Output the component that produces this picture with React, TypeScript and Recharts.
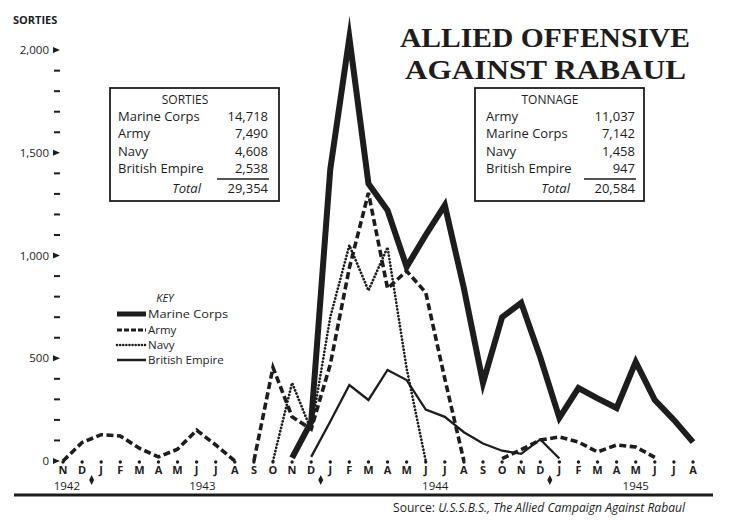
import { LineChart, Line, XAxis, YAxis, ReferenceDot } from 'recharts'

const INK = '#1d1d1d'
const FONT = '"Open Sans", Lato, sans-serif'
const N = null

// Nov 1942 .. Aug 1945
const months = ['N', 'D', 'J', 'F', 'M', 'A', 'M', 'J', 'J', 'A', 'S', 'O',
  'N', 'D', 'J', 'F', 'M', 'A', 'M', 'J', 'J', 'A', 'S', 'O',
  'N', 'D', 'J', 'F', 'M', 'A', 'M', 'J', 'J', 'A']

const marine = [N, N, N, N, N, N, N, N, N, N, N, N,
  15, 190, 1420, 2060, 1350, 1220, 945, 1100, 1245, 840, 380, 700,
  770, 505, 210, 355, 305, 258, 482, 297, 200, 92]
const armyA = [0, 90, 128, 122, 62, 20, 57, 150, 78, 0]
const armyB = [N, N, N, N, N, N, N, N, N, N, 0, 455,
  215, 155, 470, 940, 1305, 840, 925, 820, 400, 0, N, 12,
  55, 102, 117, 92, 44, 78, 68, 18, N, N]
const navy = [N, N, N, N, N, N, N, N, N, N, N, 0,
  380, 150, 700, 1050, 830, 1040, 450, 0, N, N, N, N,
  N, N, N, N, N, N, N, N, N, N]
const british = [N, N, N, N, N, N, N, N, N, N, N, N,
  N, 20, 192, 370, 297, 443, 394, 250, 215, 140, 85, 50,
  35, 105, 12, N, N, N, N, N, N, N]

const yTicks = [0, 100, 200, 300, 400, 500, 600, 700, 800, 900, 1000,
  1100, 1200, 1300, 1400, 1500, 1600, 1700, 1800, 1900, 2000]
const yLabels: Record<number, string> = { 0: '0', 500: '500', 1000: '1,000', 1500: '1,500', 2000: '2,000' }

const years = [{ label: '1942', at: 0.2 }, { label: '1943', at: 7.3 }, { label: '1944', at: 19.5 }, { label: '1945', at: 30 }]
const yearBreaks = [1.5, 13.5, 25.5]

const sorties = [['Marine Corps', '14,718'], ['Army', '7,490'], ['Navy', '4,608'], ['British Empire', '2,538']]
const sortiesTotal = '29,354'
const tonnage = [['Army', '11,037'], ['Marine Corps', '7,142'], ['Navy', '1,458'], ['British Empire', '947']]
const tonnageTotal = '20,584'

const data = months.map((m, i) => ({
  i,
  m,
  marine: marine[i],
  armyA: armyA[i] ?? null,
  armyB: armyB[i],
  navy: navy[i],
  british: british[i],
}))

function YTick(props: any) {
  const { y, payload } = props
  const label = yLabels[payload.value]
  if (label === undefined) {
    return <line x1={54} x2={60} y1={y} y2={y} stroke={INK} strokeWidth={2} />
  }
  return (
    <g>
      <text x={49} y={y + 4} textAnchor="end" fontFamily={FONT} fontSize={11.5} fill={INK}>{label}</text>
      <polygon points={`53,${y - 3} 60,${y} 53,${y + 3}`} fill={INK} />
    </g>
  )
}

function XTick(props: any) {
  const { x, payload } = props
  return (
    <g>
      <circle cx={x} cy={462} r={1.7} fill={INK} />
      <text x={x} y={474} textAnchor="middle" fontFamily={FONT} fontWeight={700} fontSize={11} fill={INK}>
        {months[payload.value]}
      </text>
    </g>
  )
}

const Diamond = (p: any) => (
  <polygon points={`${p.cx},${p.cy + 14} ${p.cx + 2.5},${p.cy + 19} ${p.cx},${p.cy + 24} ${p.cx - 2.5},${p.cy + 19}`} fill={INK} />
)

const yearLabel = (label: string) => (p: any) => (
  <text x={p.cx} y={p.cy + 29} textAnchor="middle" fontFamily={FONT} fontSize={11.5} fill={INK}>{label}</text>
)

function TableBox({ x, title, rows, total, labelX, numX, totalX }: any) {
  const base = [121, 138, 156, 173]
  return (
    <g fontFamily={FONT} fill={INK}>
      <rect x={x} y={88} width={169} height={113} fill="none" stroke={INK} strokeWidth={1.8} />
      <text x={x + 75} y={104} textAnchor="middle" fontSize={12}>{title}</text>
      {rows.map((r: string[], k: number) => (
        <g key={r[0]}>
          <text x={labelX} y={base[k]} fontSize={13}>{r[0]}</text>
          <text x={numX} y={base[k]} fontSize={13} textAnchor="end">{r[1]}</text>
        </g>
      ))}
      <line x1={numX - 51} x2={numX + 1} y1={179} y2={179} stroke={INK} strokeWidth={1.3} />
      <text x={totalX} y={193} fontSize={13} fontStyle="italic" textAnchor="end">Total</text>
      <text x={numX} y={193} fontSize={13} textAnchor="end">{total}</text>
    </g>
  )
}

export default function App() {
  return (
    <div style={{ position: 'absolute', left: 0, top: 0, width: 747, height: 526, background: '#fff' }}>
      <LineChart width={747} height={526} data={data} margin={{ top: 9, right: 54, bottom: 0, left: 0 }}>
        <XAxis dataKey="i" type="number" domain={[0, 33]} ticks={months.map((_, i) => i)} interval={0}
          height={65} axisLine={false} tickLine={false} tick={<XTick />} />
        <YAxis type="number" domain={[0, 2200]} ticks={yTicks} interval={0} width={63}
          axisLine={false} tickLine={false} tick={<YTick />} />
        <Line dataKey="british" stroke={INK} strokeWidth={2.3} dot={false} isAnimationActive={false} />
        <Line dataKey="navy" stroke={INK} strokeWidth={2.7} strokeDasharray="0.1 3.3" strokeLinecap="round"
          dot={false} isAnimationActive={false} />
        <Line dataKey="armyA" stroke={INK} strokeWidth={3.6} strokeDasharray="7 3.5" dot={false} isAnimationActive={false} />
        <Line dataKey="armyB" stroke={INK} strokeWidth={3.6} strokeDasharray="7 3.5" dot={false} isAnimationActive={false} />
        <Line dataKey="marine" stroke={INK} strokeWidth={6} strokeMiterlimit={10} dot={false} isAnimationActive={false} />
        {yearBreaks.map((b) => (
          <ReferenceDot key={b} x={b} y={0} r={2} ifOverflow="visible" shape={Diamond} />
        ))}
        {years.map((yr) => (
          <ReferenceDot key={yr.label} x={yr.at} y={0} r={2} ifOverflow="visible" shape={yearLabel(yr.label)} />
        ))}
      </LineChart>
      <svg width={747} height={526} style={{ position: 'absolute', left: 0, top: 0, pointerEvents: 'none' }}>
        <text x={13} y={24} fontFamily={FONT} fontWeight={700} fontSize={11} fill={INK}>SORTIES</text>
        <g fontFamily='"Liberation Serif", "DejaVu Serif", serif' fontWeight={700} fontSize={28} fill={INK}>
          <text x={400} y={47} textLength={290} lengthAdjust="spacingAndGlyphs">ALLIED OFFENSIVE</text>
          <text x={405} y={79} textLength={281} lengthAdjust="spacingAndGlyphs">AGAINST RABAUL</text>
        </g>
        <TableBox x={110} title="SORTIES" rows={sorties} total={sortiesTotal} labelX={118} numX={268} totalX={201} />
        <TableBox x={475} title="TONNAGE" rows={tonnage} total={tonnageTotal} labelX={486} numX={635} totalX={570} />
        <g fontFamily={FONT} fill={INK} fontSize={11.5}>
          <text x={165} y={302} textAnchor="middle" fontStyle="italic" fontSize={11}>KEY</text>
          <line x1={117} x2={146} y1={314} y2={314} stroke={INK} strokeWidth={5} />
          <text x={148} y={318} textLength={80} lengthAdjust="spacingAndGlyphs">Marine Corps</text>
          <line x1={117} x2={146} y1={330} y2={330} stroke={INK} strokeWidth={3} strokeDasharray="5 2" />
          <text x={148} y={334}>Army</text>
          <line x1={117} x2={146} y1={345} y2={345} stroke={INK} strokeWidth={2.5} strokeDasharray="0.1 3" strokeLinecap="round" />
          <text x={148} y={349}>Navy</text>
          <line x1={117} x2={146} y1={360} y2={360} stroke={INK} strokeWidth={2.5} />
          <text x={148} y={364}>British Empire</text>
        </g>
        <line x1={14} x2={713} y1={495} y2={495} stroke={INK} strokeWidth={3} />
        <text x={393} y={512} fontFamily={FONT} fontSize={12} fill={INK} textLength={292} lengthAdjust="spacingAndGlyphs">
          Source: <tspan fontStyle="italic">U.S.S.B.S., The Allied Campaign Against Rabaul</tspan>
        </text>
      </svg>
    </div>
  )
}
